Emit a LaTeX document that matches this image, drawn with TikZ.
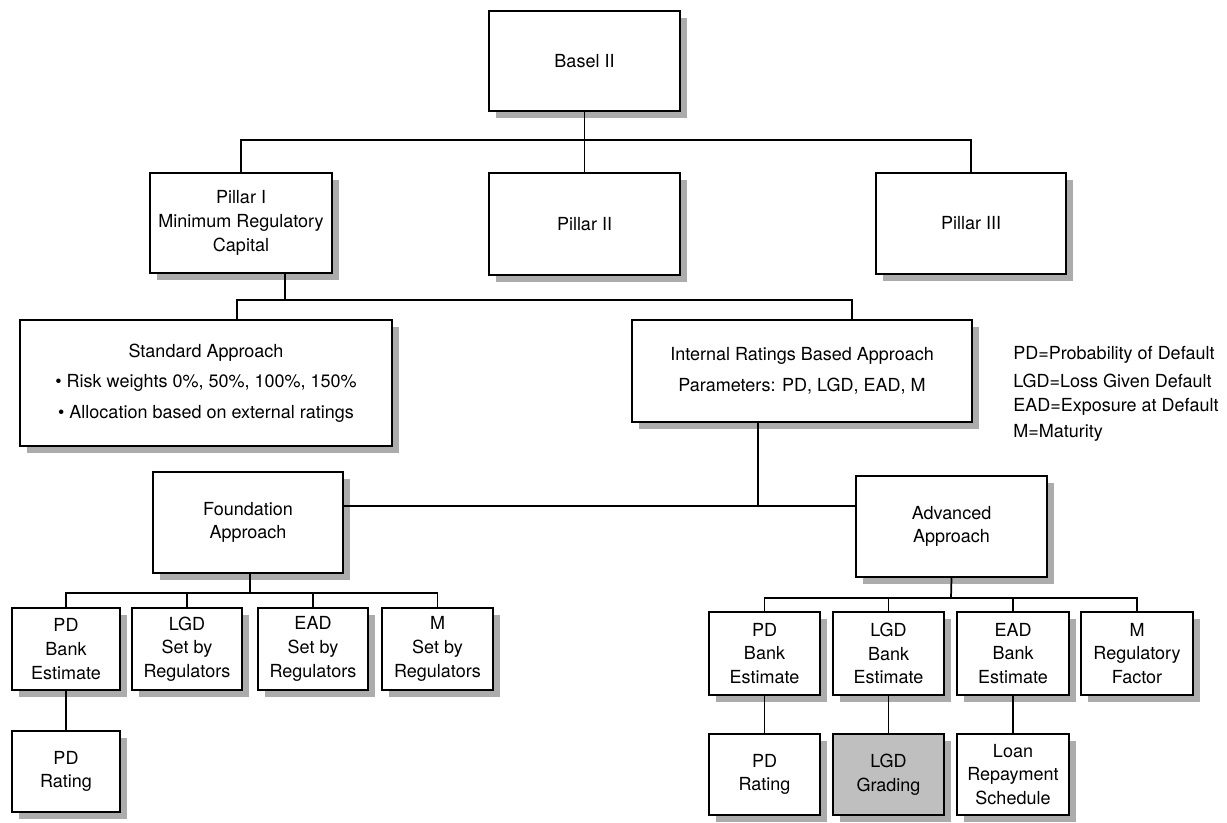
\documentclass[tikz,border=0pt]{standalone}
\usepackage{fontspec}
\setmainfont{TeX Gyre Heros}
\usetikzlibrary{shadows}
\tikzset{
  bbox/.style={draw, line width=1.4pt, fill=white, align=center, inner sep=2pt,
    font=\fontsize{13.5}{17.8}\selectfont,
    drop shadow={shadow xshift=5.5pt, shadow yshift=-5.5pt, fill=gray!65, opacity=1}},
  widebox/.style={font=\fontsize{13.5}{23}\selectfont},
  greybox/.style={fill=gray!50},
  conn/.style={line width=1.3pt},
  legend/.style={anchor=west, inner sep=0pt, font=\fontsize{13.5}{16}\selectfont}
}
\newcommand{\bx}[7][]{\node[bbox,#1,minimum width={(#5-#3)*0.75pt},minimum height={(#6-#4)*0.75pt}] (#2) at ({(#3+#5)/2},{(#4+#6)/2}) {#7};}
\begin{document}
\begin{tikzpicture}[x=0.75pt,y=-0.75pt]
\useasboundingbox (0,0) rectangle (1227,822);
% junction coordinates
\coordinate (b1) at (585,140);
\coordinate (b2) at (285,300);
\coordinate (s2) at (237,300);
\coordinate (i2) at (852,300);
\coordinate (b3) at (758,506);
\coordinate (b4) at (250,593);
\coordinate (b5) at (951,598);
% boxes
\bx{basel}{489}{11}{680}{111}{Basel II}
\bx{p1}{150}{173}{332}{273}{Pillar I\\Minimum Regulatory\\Capital}
\bx{p2}{489}{173}{680}{275}{Pillar II}
\bx{p3}{876}{173}{1066}{274}{Pillar III}
\bx[widebox]{std}{20}{320}{392}{446}{Standard Approach\\\textbullet\ Risk weights 0\%, 50\%, 100\%, 150\%\\\textbullet\ Allocation based on external ratings}
\bx[widebox]{irb}{632}{320}{972}{422}{Internal Ratings Based Approach\\Parameters: PD, LGD, EAD, M}
\bx{fnd}{153}{472}{343}{573}{Foundation\\Approach}
\bx{adv}{856}{476}{1047}{577}{Advanced\\Approach}
\bx{fpd}{12}{608}{120}{690}{PD\\Bank\\Estimate}
\bx{flgd}{132}{608}{242}{690}{LGD\\Set by\\Regulators}
\bx{fead}{258}{608}{368}{690}{EAD\\Set by\\Regulators}
\bx{fm}{382}{608}{493}{690}{M\\Set by\\Regulators}
\bx{fpdr}{12}{731}{120}{812}{PD\\Rating}
\bx{apd}{709}{612}{820}{695}{PD\\Bank\\Estimate}
\bx{algd}{833}{612}{944}{695}{LGD\\Bank\\Estimate}
\bx{aead}{957}{612}{1069}{695}{EAD\\Bank\\Estimate}
\bx{am}{1081}{612}{1193}{695}{M\\Regulatory\\Factor}
\bx{apdr}{709}{734}{820}{815}{PD\\Rating}
\bx[greybox]{algdr}{833}{734}{944}{815}{LGD\\Grading}
\bx{loan}{957}{734}{1069}{815}{Loan\\Repayment\\Schedule}
% legend
\node[legend] (leg1) at (1013,355) {PD=Probability of Default};
\node[legend] (leg2) at (1013,381) {LGD=Loss Given Default};
\node[legend] (leg3) at (1013,407) {EAD=Exposure at Default};
\node[legend] (leg4) at (1013,433) {M=Maturity};
% connectors
\draw[conn] (basel.south) -- (p2.north);
\draw[conn] (p1.north) -- (p1.north |- b1) -- (p3.north |- b1) -- (p3.north);
\draw[conn] (p1.south -| b2) -- (b2);
\draw[conn] (std.north -| s2) -- (s2) -- (i2) -- (irb.north -| i2);
\draw[conn] (irb.south -| b3) -- (b3);
\draw[conn] (fnd.east |- b3) -- (adv.west |- b3);
\draw[conn] (fnd.south -| b4) -- (b4);
\draw[conn] (fpd.north) -- (fpd.north |- b4) -- (fm.north |- b4) -- (fm.north);
\draw[conn] (flgd.north) -- (flgd.north |- b4);
\draw[conn] (fead.north) -- (fead.north |- b4);
\draw[conn] (fpd.south) -- (fpdr.north);
\draw[conn] (adv.south) -- (b5);
\draw[conn] (apd.north) -- (apd.north |- b5) -- (am.north |- b5) -- (am.north);
\draw[conn] (algd.north) -- (algd.north |- b5);
\draw[conn] (aead.north) -- (aead.north |- b5);
\draw[conn] (apd.south) -- (apdr.north);
\draw[conn] (algd.south) -- (algdr.north);
\draw[conn] (aead.south) -- (loan.north);
\end{tikzpicture}
\end{document}
